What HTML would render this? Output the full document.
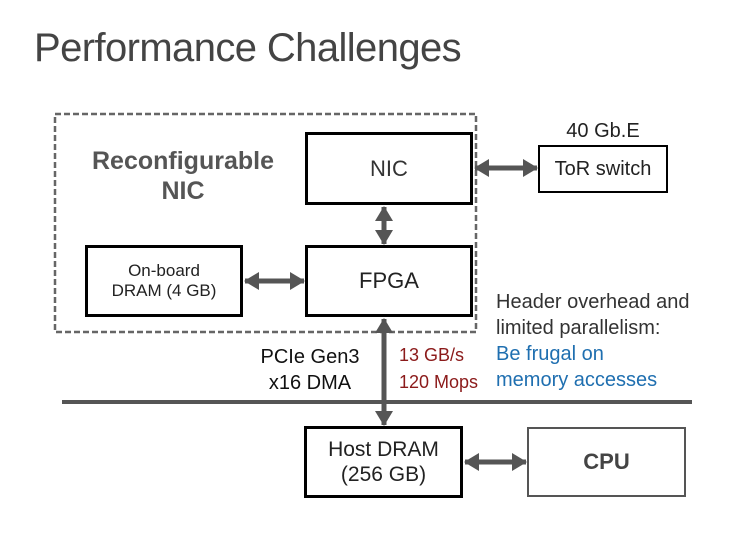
<!DOCTYPE html>
<html><head><style>
body{margin:0;width:734px;height:551px;background:#fff;position:relative;overflow:hidden;font-family:"Liberation Sans","DejaVu Sans",sans-serif}
.t{position:absolute;white-space:nowrap}
.b{position:absolute;border:3px solid #000;box-sizing:border-box;display:flex;align-items:center;justify-content:center;text-align:center;line-height:1.15}
</style></head><body>
<div class="t" style="left:34px;top:26px;font-size:40px;color:#444;letter-spacing:-0.6px">Performance Challenges</div>
<svg width="734" height="551" style="position:absolute;left:0;top:0">
<defs><marker id="a" markerWidth="15" markerHeight="18" refX="14" refY="9" orient="auto-start-reverse" markerUnits="userSpaceOnUse"><path d="M0,0L15,9L0,18z" fill="#555"/></marker></defs>
<rect x="55" y="114" width="421" height="218" fill="none" stroke="#666" stroke-width="2.5" stroke-dasharray="6,3"/>
<line x1="62" y1="402" x2="692" y2="402" stroke="#555" stroke-width="4"/>
<g stroke="#555" stroke-width="5" marker-start="url(#a)" marker-end="url(#a)">
<line x1="245" y1="281" x2="304" y2="281"/>
<line x1="384" y1="207" x2="384" y2="244"/>
<line x1="475" y1="168" x2="537" y2="168"/>
<line x1="384" y1="319" x2="384" y2="425"/>
<line x1="465" y1="462" x2="526" y2="462"/>
</g>
</svg>
<div class="t" style="left:60px;top:146px;width:246px;text-align:center;font-size:25px;font-weight:bold;color:#555;line-height:30px">Reconfigurable<br>NIC</div>
<div class="b" style="left:305px;top:132px;width:168px;height:73px;font-size:22px;color:#333">NIC</div>
<div class="b" style="left:305px;top:245px;width:168px;height:72px;font-size:22px;color:#222">FPGA</div>
<div class="b" style="left:85px;top:245px;width:158px;height:72px;font-size:17px;color:#222;line-height:20px">On-board<br>DRAM (4 GB)</div>
<div class="t" style="left:538px;top:120px;width:130px;text-align:center;font-size:20px;color:#222">40 Gb.E</div>
<div class="b" style="left:538px;top:145px;width:130px;height:48px;border-width:2px;font-size:20px;color:#222">ToR switch</div>
<div class="t" style="left:240px;top:344px;width:140px;text-align:center;font-size:20px;color:#111;line-height:26px">PCIe Gen3<br>x16 DMA</div>
<div class="t" style="left:399px;top:342px;font-size:18px;color:#8b1a1a;line-height:27px">13 GB/s<br>120 Mops</div>
<div class="t" style="left:496px;top:289px;font-size:20px;color:#333;line-height:26px">Header overhead and<br>limited parallelism:<br><span style="color:#1f6fb0">Be frugal on<br>memory accesses</span></div>
<div class="b" style="left:304px;top:426px;width:159px;height:72px;font-size:21px;color:#222;line-height:25px">Host DRAM<br>(256 GB)</div>
<div class="b" style="left:527px;top:427px;width:159px;height:70px;border:2px solid #555;font-size:22px;font-weight:bold;color:#444">CPU</div>
</body></html>
